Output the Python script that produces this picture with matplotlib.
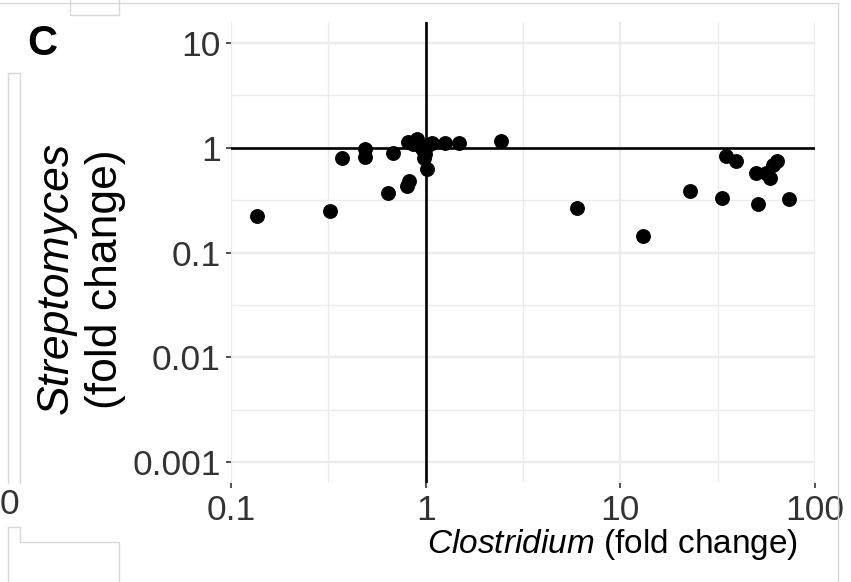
import matplotlib
matplotlib.use("Agg")
import matplotlib.pyplot as plt
from matplotlib.lines import Line2D
from matplotlib.patches import Rectangle

# Fold changes of the two genera, one point per sample
clostridium_fc = [0.136, 0.322, 0.371, 0.49, 0.49, 0.68, 0.64, 0.80, 0.82,
                  0.81, 0.90, 0.86, 0.95, 0.97, 0.99, 0.98, 1.02, 1.02, 1.08,
                  1.26, 1.48, 2.44, 5.98, 13.1, 22.8, 33.3, 50.9, 73.4, 34.9,
                  39.2, 49.7, 56.0, 58.7, 60.8, 63.7]
streptomyces_fc = [0.223, 0.249, 0.80, 0.98, 0.82, 0.89, 0.37, 0.43, 0.48,
                   1.13, 1.22, 1.08, 1.02, 0.96, 0.88, 0.80, 1.05, 0.63, 1.10,
                   1.10, 1.10, 1.15, 0.266, 0.144, 0.386, 0.331, 0.29, 0.324,
                   0.83, 0.75, 0.57, 0.57, 0.51, 0.68, 0.75]

x_ticks = [0.1, 1, 10, 100]
x_tick_labels = ["0.1", "1", "10", "100"]
x_minor = [10 ** -0.5, 10 ** 0.5, 10 ** 1.5]
y_ticks = [0.001, 0.01, 0.1, 1, 10]
y_tick_labels = ["0.001", "0.01", "0.1", "1", "10"]
y_minor = [10 ** -2.5, 10 ** -1.5, 10 ** -0.5, 10 ** 0.5]

plt.rcParams["font.family"] = ["Liberation Sans", "DejaVu Sans"]
plt.rcParams["mathtext.fontset"] = "custom"
plt.rcParams["mathtext.rm"] = "Liberation Sans"
plt.rcParams["mathtext.it"] = "Liberation Sans:italic"

W, H = 851, 582
fig = plt.figure(figsize=(W / 100, H / 100), dpi=100)


def fx(px):
    return px / W


def fy(py):
    return 1 - py / H


ax = fig.add_axes([fx(231), fy(483), fx(815) - fx(231), fy(22) - fy(483)])
ax.set_xscale("log")
ax.set_yscale("log")
ax.set_xlim(0.1, 100)
ax.set_ylim(10 ** -3.2, 10 ** 1.2)

ax.set_xticks(x_ticks)
ax.set_xticklabels(x_tick_labels)
ax.set_xticks(x_minor, minor=True)
ax.set_yticks(y_ticks)
ax.set_yticklabels(y_tick_labels)
ax.set_yticks(y_minor, minor=True)
ax.xaxis.set_minor_formatter(plt.NullFormatter())
ax.yaxis.set_minor_formatter(plt.NullFormatter())

ax.grid(which="major", color="#EBEBEB", lw=1.6)
ax.grid(which="minor", color="#EBEBEB", lw=1.0)
ax.set_axisbelow(True)
for s in ax.spines.values():
    s.set_visible(False)
ax.tick_params(which="major", length=3.8, width=1.2, color="#333333",
               labelsize=25.5, labelcolor="#333333", pad=3.5)
ax.tick_params(which="minor", length=0)
ax.tick_params(axis="x", pad=4)

ax.axhline(1, color="black", lw=1.9, zorder=2)
ax.axvline(1, color="black", lw=1.9, zorder=2)
ax.scatter(clostridium_fc, streptomyces_fc, s=115, color="black",
           linewidths=0, zorder=3)

# axis titles
fig.text(fx(612), fy(545), r"$\mathit{Clostridium}$ (fold change)",
         ha="center", va="center", fontsize=24, color="black")
fig.text(fx(56), fy(278), "Streptomyces", style="italic", rotation=90,
         ha="center", va="center", fontsize=32, color="black")
fig.text(fx(106), fy(279), "(fold change)", rotation=90,
         ha="center", va="center", fontsize=32, color="black")

# panel tag
fig.text(fx(42), fy(44), "C", fontsize=30, fontweight="bold",
         ha="center", va="center")

# edges of neighbouring panels
edge = "#D8D8D8"
fig.add_artist(Line2D([0, fx(838)], [fy(3), fy(3)], color=edge, lw=1))
fig.add_artist(Line2D([fx(838), fx(838)], [fy(3), 0], color=edge, lw=1))
fig.add_artist(Line2D([fx(70), fx(70), fx(119), fx(119)],
                      [1, fy(15), fy(15), 1], color=edge, lw=1))
fig.add_artist(Line2D([fx(8), fx(8), fx(20), fx(20)],
                      [fy(483), fy(73), fy(73), fy(483)], color=edge, lw=1))
fig.add_artist(Line2D([fx(8), fx(8)], [fy(527), 0], color=edge, lw=1))
fig.add_artist(Line2D([fx(8), fx(20), fx(20), fx(119), fx(119)],
                      [fy(527), fy(527), fy(542), fy(542), 0], color=edge, lw=1))
fig.text(fx(9), fy(505), "0", fontsize=25.5, color="#333333",
         ha="center", va="center")
fig.add_artist(Rectangle((fx(118), fy(480)), fx(133) - fx(118),
                         fy(445) - fy(480), color="white", zorder=10))

fig.savefig("out.png", dpi=100)
